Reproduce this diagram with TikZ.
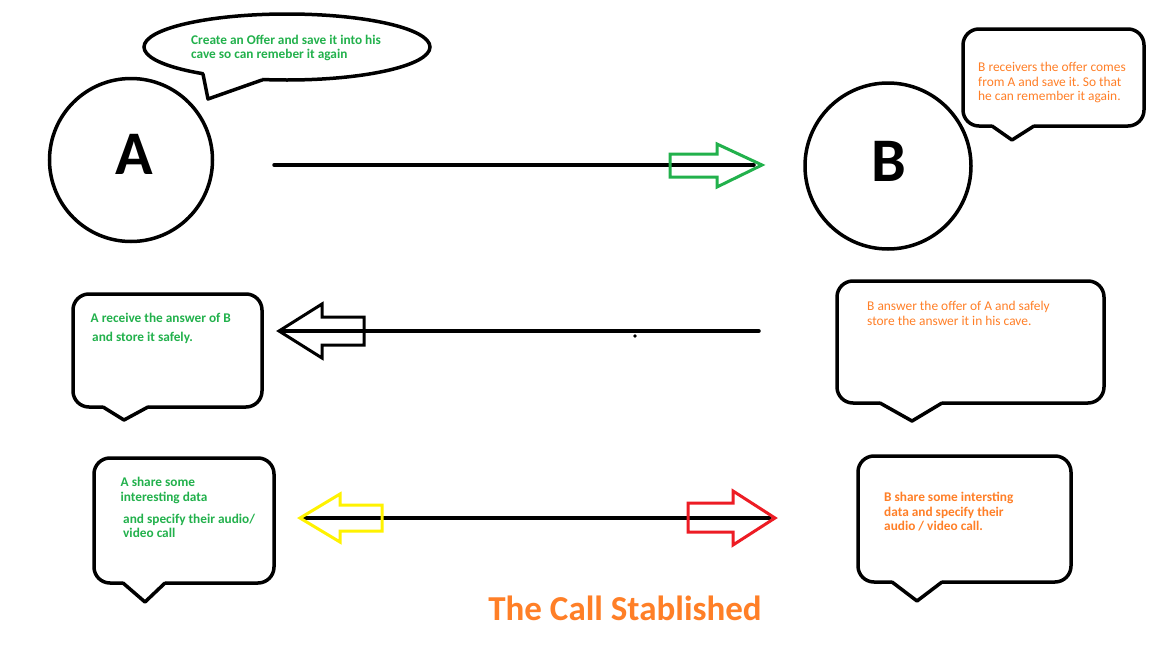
\documentclass[tikz,border=0pt]{standalone}
\usepackage{fontspec}
\setmainfont{Carlito}
\frenchspacing
\definecolor{pgreen}{RGB}{34,177,76}
\definecolor{porange}{RGB}{255,127,39}
\definecolor{pyellow}{RGB}{255,242,0}
\definecolor{pred}{RGB}{237,28,36}
\begin{document}
\begin{tikzpicture}[x=1pt,y=-1pt,
  bubble/.style={draw=black,line width=3.5pt,rounded corners=16pt},
  tailline/.style={draw=black,line width=3.5pt,line join=round,line cap=round},
  wire/.style={draw=black,line width=3.5pt,line cap=round},
  blockarrow/.style={line width=3pt,line join=miter,fill=none},
  greentext/.style={text=pgreen,font=\fontsize{13.3}{15}\selectfont\bfseries,anchor=base west,inner sep=0pt},
  orangetext/.style={text=porange,font=\fontsize{13.4}{15}\selectfont,anchor=base west,inner sep=0pt},
  orangebold/.style={text=porange,font=\fontsize{13.3}{15}\selectfont\bfseries,anchor=base west,inner sep=0pt},
  bigletter/.style={font=\fontsize{62}{62}\selectfont\bfseries,inner sep=0pt}
]
\useasboundingbox (0,0) rectangle (1152,648);
\fill[white] (0,0) rectangle (1152,648);

% circles
\node[circle,draw,line width=3.5pt,minimum size=163pt,inner sep=0pt] (A) at (131,160) {};
\node[bigletter] (Aletter) at (134,154) {A};
\node[circle,draw,line width=3.5pt,minimum size=166pt,inner sep=0pt] (B) at (888,166) {};
\node[bigletter] (Bletter) at (889,161) {B};

% top ellipse callout
\draw[line width=3.5pt] (287,47) ellipse [x radius=143pt, y radius=33pt];
\fill[white] (205,69) -- (262,75) -- (262,81) -- (208,97) -- (203,75) -- cycle;
\draw[tailline] (203,74) -- (208,99) -- (262,80);
\node[greentext] (t1a) at (191,44) {Create an Offer and save it into his};
\node[greentext] (t1b) at (191,58.5) {cave so can remeber it again};

% top-right callout
\draw[bubble] (963,29) rectangle (1144,126);
\fill[white] (992,122) rectangle (1034,129);
\draw[tailline] (992,126) -- (1012,140) -- (1034,126);
\node[orangetext] (t2a) at (978,71.5) {B receivers the offer comes};
\node[orangetext] (t2b) at (978,86) {from A and save it. So that};
\node[orangetext] (t2c) at (978,100.5) {he can remember it again.};

% middle-left callout
\draw[bubble] (73,294) rectangle (262,407);
\fill[white] (103,403) rectangle (148,410);
\draw[tailline] (103,407) -- (124,420) -- (148,407);
\node[greentext] (t3a) at (90.5,322) {A receive the answer of B};
\node[greentext] (t3b) at (92,341.5) {and store it safely.};

% middle-right callout
\draw[bubble] (837,281) rectangle (1104,403);
\fill[white] (880,399) rectangle (942,406);
\draw[tailline] (880,403) -- (912,421) -- (942,403);
\node[orangetext] (t4a) at (867,310.5) {B answer the offer of A and safely};
\node[orangetext] (t4b) at (867,325) {store the answer it in his cave.};

% bottom-left callout
\draw[bubble] (94,458) rectangle (274,583);
\fill[white] (123,579) rectangle (165,586);
\draw[tailline] (123,583) -- (145,602) -- (165,583);
\node[greentext] (t5a) at (120.5,486) {A share some};
\node[greentext] (t5b) at (120.5,501) {interesting data};
\node[greentext] (t5c) at (123,523) {and specify their audio/};
\node[greentext] (t5d) at (123,537.5) {video call};

% bottom-right callout
\draw[bubble] (858,456) rectangle (1071,582);
\fill[white] (892,578) rectangle (942,585);
\draw[tailline] (892,582) -- (917,601) -- (942,582);
\node[orangebold] (t6a) at (884,501.5) {B share some intersting};
\node[orangebold] (t6b) at (884,516) {data and specify their};
\node[orangebold] (t6c) at (884,530.5) {audio / video call.};

% top connector: A -> B
\coordinate (l1s) at (274,165);
\coordinate (l1e) at (754,165);
\draw[wire] (l1s) -- (l1e);
\draw[blockarrow,draw=pgreen] (670,154) -- (717,154) -- (717,144) -- (762,165) -- (717,187) -- (717,177) -- (670,177) -- cycle;

% middle connector: B -> A
\coordinate (l2s) at (759,331);
\coordinate (l2e) at (282,331);
\draw[wire] (l2s) -- (l2e);
\draw[blockarrow,draw=black] (364,317) -- (322,317) -- (322,304) -- (279,331) -- (322,358) -- (322,345) -- (364,345) -- cycle;
\fill (635,336) circle (1.8pt);

% bottom connector: both ways
\coordinate (l3s) at (303,518);
\coordinate (l3e) at (770,518);
\draw[wire] (l3s) -- (l3e);
\draw[blockarrow,draw=pyellow] (382,505) -- (340,505) -- (340,494) -- (300,518) -- (340,542) -- (340,531) -- (382,531) -- cycle;
\draw[blockarrow,draw=pred] (688,503) -- (733,503) -- (733,491) -- (775,518) -- (733,545) -- (733,532) -- (688,532) -- cycle;

% title
\node[text=porange,font=\fontsize{35}{36}\selectfont\bfseries,inner sep=0pt,anchor=base] (title) at (625,620) {The Call Stablished};
\end{tikzpicture}
\end{document}
